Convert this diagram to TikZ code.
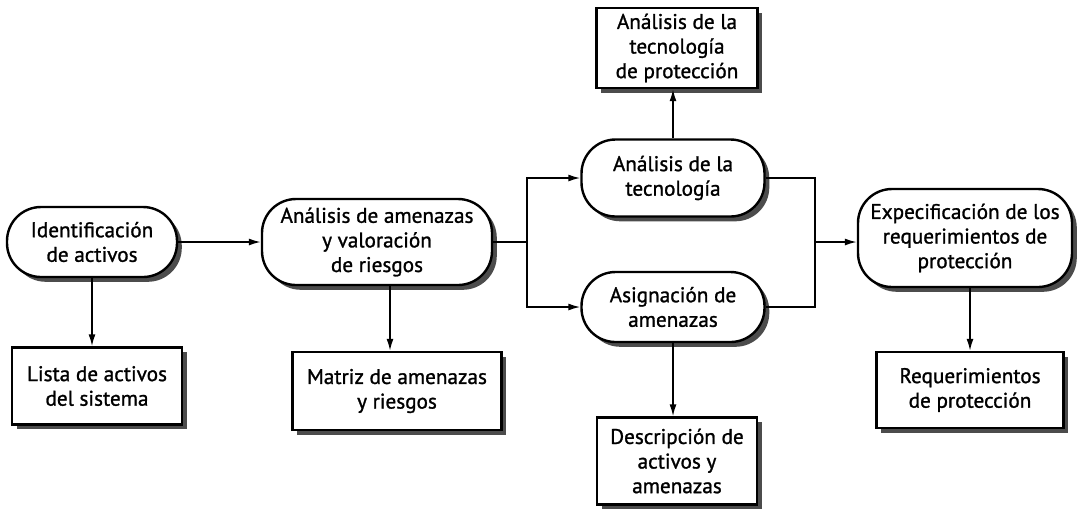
\documentclass[tikz,border=0pt]{standalone}
\usepackage{fontspec}
\setmainfont{PT Sans}[BoldFont=PT Sans,BoldFeatures={FakeBold=1.2}]
\usetikzlibrary{arrows.meta,shadows}

\begin{document}
\begin{tikzpicture}[x=0.5pt,y=-0.5pt,
  every node/.style={font=\fontsize{10.6}{12.3}\selectfont\bfseries,align=center,inner sep=0pt},
  sombra/.style={drop shadow={shadow xshift=2.4pt,shadow yshift=-2.4pt,fill=black!70,opacity=1}},
  proc/.style={draw,line width=1.2pt,rounded corners=17pt,fill=white,sombra},
  doc/.style={draw,line width=1.2pt,fill=white,sombra},
  flecha/.style={-{Latex[length=6pt,width=3.5pt]},line width=0.8pt}]
 \useasboundingbox (0,0) rectangle (1080,511);
 % procesos
 \node[proc,minimum width=85pt,minimum height=35pt] (ia) at (92,242) {Identificación\\de activos};
 \node[proc,minimum width=115pt,minimum height=43pt] (aa) at (377,242) {Análisis de amenazas\\y valoración\\de riesgos};
 \node[proc,minimum width=91.5pt,minimum height=38.5pt] (at) at (673,178) {Análisis de la\\tecnología};
 \node[proc,minimum width=91.5pt,minimum height=35pt] (ag) at (673,307) {Asignación de\\amenazas};
 \node[proc,minimum width=107pt,minimum height=49pt] (ep) at (965,238) {Expecificación de los\\requerimientos de\\protección};
 % documentos
 \node[doc,minimum width=80.5pt,minimum height=40pt] (ap) at (677,48) {Análisis de la\\tecnología\\de protección};
 \node[doc,minimum width=80pt,minimum height=43.5pt] (da) at (677,461) {Descripción de\\activos y\\amenazas};
 \node[doc,minimum width=85pt,minimum height=38.5pt] (la) at (97,386) {Lista de activos\\del sistema};
 \node[doc,minimum width=104.5pt,minimum height=39pt] (ma) at (397,391) {Matriz de amenazas\\y riesgos};
 \node[doc,minimum width=93.5pt,minimum height=38pt] (rp) at (970,390) {Requerimientos\\de protección};
 % conectores
 \coordinate (j1) at (527,242);
 \coordinate (j2) at (815,242);
 \draw[flecha] (ia.east) -- (aa.west);
 \draw[line width=0.8pt] (aa.east) -- (j1);
 \draw[flecha] (j1) |- (at.west);
 \draw[flecha] (j1) |- (ag.west);
 \draw[line width=0.8pt] (at.east) -| (j2) |- (ag.east);
 \draw[flecha] (j2) -- (j2 -| ep.west);
 \draw[flecha] (at.north) -- (at.north |- ap.south);
 \draw[flecha] (ag.south) -- (ag.south |- da.north);
 \draw[flecha] (ia.south) -- (ia.south |- la.north);
 \draw[flecha] ([xshift=6.5pt]aa.south) -- ([xshift=6.5pt]aa.south |- ma.north);
 \draw[flecha] (ep.south -| rp.north) -- (rp.north);
\end{tikzpicture}
\end{document}
